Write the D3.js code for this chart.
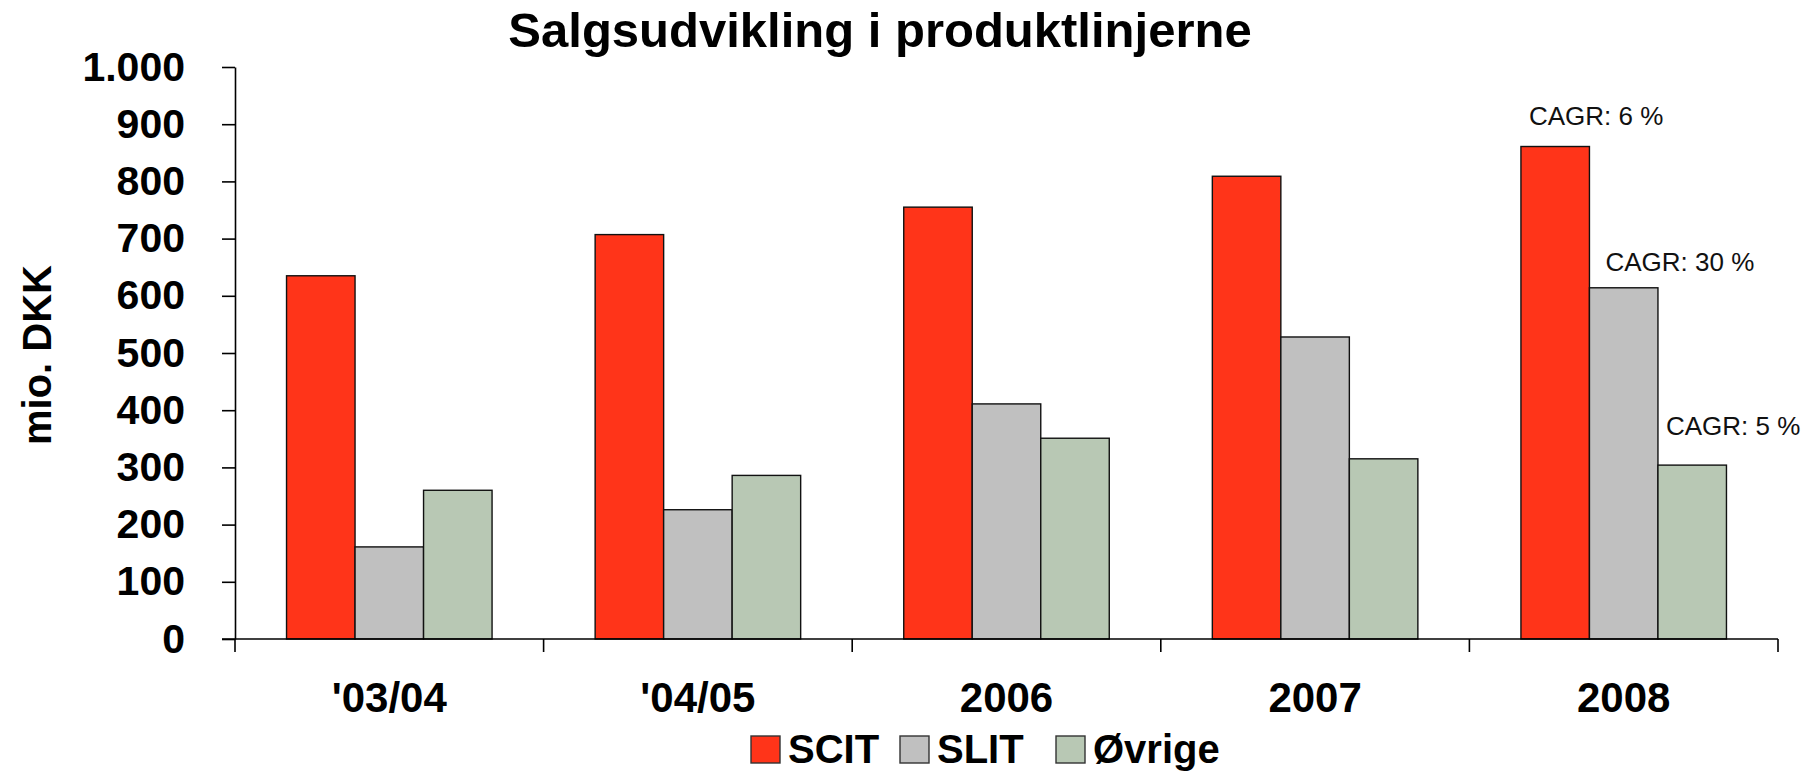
<!DOCTYPE html>
<html>
<head>
<meta charset="utf-8">
<script src="https://cdn.jsdelivr.net/npm/d3@7"></script>
<style>
  body { margin: 0; background: #fff; }
  svg { display: block; font-family: "Liberation Sans", Arial, Helvetica, sans-serif; }
</style>
</head>
<body>
<script>
// data
const categories = ["'03/04", "'04/05", "2006", "2007", "2008"];
const keys = ["SCIT", "SLIT", "Øvrige"];
const scit = [635, 707, 755, 809, 861];
const slit = [161, 226, 411, 528, 614];
const oevrige = [260, 286, 351, 315, 304];
const yTicks = [0, 100, 200, 300, 400, 500, 600, 700, 800, 900, 1000];
const cagrLabels = ["CAGR: 6 %", "CAGR: 30 %", "CAGR: 5 %"];

const width = 1807, height = 773;
const marginLeft = 235, marginRight = 29, marginTop = 67, marginBottom = 134;

const colors = { "SCIT": "#FF3419", "SLIT": "#C0C0C0", "Øvrige": "#B8C8B4" };

const rows = categories.map((c, i) => ({ cat: c, SCIT: scit[i], SLIT: slit[i], "Øvrige": oevrige[i] }));

const svg = d3.select("body").append("svg")
  .attr("width", width)
  .attr("height", height);

const x0 = d3.scaleBand()
  .domain(categories)
  .range([marginLeft, width - marginRight]);

const bw = x0.bandwidth();
const x1 = d3.scaleBand()
  .domain(keys)
  .range([bw * 0.167, bw * 0.833]);

const y = d3.scaleLinear()
  .domain([0, 1000])
  .range([height - marginBottom, marginTop]);

const fmt = v => v === 1000 ? "1.000" : String(v);

// y axis
const yAxis = svg.append("g")
  .attr("transform", `translate(${marginLeft},0)`)
  .call(d3.axisLeft(y).tickValues(yTicks).tickFormat(fmt).tickSize(13).tickSizeOuter(0).tickPadding(37));
yAxis.select(".domain").attr("stroke", "#000").attr("stroke-width", 1.6);
yAxis.selectAll(".tick line").attr("stroke", "#000").attr("stroke-width", 1.6);
yAxis.selectAll(".tick text")
  .attr("font-size", 41).attr("font-weight", "bold").attr("fill", "#000")
  .attr("font-family", "Liberation Sans, Arial, sans-serif");

// bars
const groups = svg.append("g").selectAll("g")
  .data(rows)
  .join("g")
  .attr("transform", d => `translate(${x0(d.cat)},0)`);

groups.selectAll("rect")
  .data(d => keys.map(k => ({ key: k, value: d[k] })))
  .join("rect")
  .attr("x", d => x1(d.key))
  .attr("y", d => y(d.value))
  .attr("width", x1.bandwidth())
  .attr("height", d => y(0) - y(d.value))
  .attr("fill", d => colors[d.key])
  .attr("stroke", "#111")
  .attr("stroke-width", 1.4);

// x axis (ticks at band boundaries)
const xa = svg.append("g");
xa.append("line")
  .attr("x1", marginLeft - 13).attr("x2", width - marginRight)
  .attr("y1", y(0)).attr("y2", y(0))
  .attr("stroke", "#000").attr("stroke-width", 1.6);
const bounds = categories.map(c => x0(c)).concat([x0(categories[categories.length - 1]) + bw]);
xa.selectAll("line.tk")
  .data(bounds)
  .join("line")
  .attr("class", "tk")
  .attr("x1", d => d).attr("x2", d => d)
  .attr("y1", y(0)).attr("y2", y(0) + 13)
  .attr("stroke", "#000").attr("stroke-width", 1.6);
xa.selectAll("text")
  .data(categories)
  .join("text")
  .attr("x", d => x0(d) + bw / 2)
  .attr("y", 712)
  .attr("text-anchor", "middle")
  .attr("font-size", 42).attr("font-weight", "bold")
  .text(d => d);

// title
svg.append("text")
  .attr("x", 880).attr("y", 47)
  .attr("text-anchor", "middle")
  .attr("font-size", 49).attr("font-weight", "bold")
  .text("Salgsudvikling i produktlinjerne");

// y axis title
svg.append("text")
  .attr("transform", `translate(51,${(y(0) + y(1000)) / 2 + 2}) rotate(-90)`)
  .attr("text-anchor", "middle")
  .attr("font-size", 40).attr("font-weight", "bold")
  .text("mio. DKK");

// CAGR annotations on last group
const last = rows[rows.length - 1];
const annDx = [8, 16, 8];
const annDy = [22, 17, 30];
svg.append("g").selectAll("text")
  .data(keys)
  .join("text")
  .attr("x", (k, i) => x0(last.cat) + x1(k) + annDx[i])
  .attr("y", (k, i) => y(last[k]) - annDy[i])
  .attr("font-size", 26)
  .attr("fill", "#111")
  .text((k, i) => cagrLabels[i]);

// legend
const legX = [751, 900, 1056];
const leg = svg.append("g").selectAll("g")
  .data(keys)
  .join("g")
  .attr("transform", (k, i) => `translate(${legX[i]},736)`);
leg.append("rect")
  .attr("width", 29).attr("height", 27)
  .attr("fill", k => colors[k])
  .attr("stroke", "#333").attr("stroke-width", 1.4);
leg.append("text")
  .attr("x", 37).attr("y", 27)
  .attr("font-size", 40).attr("font-weight", "bold")
  .text(k => k);
</script>
</body>
</html>
